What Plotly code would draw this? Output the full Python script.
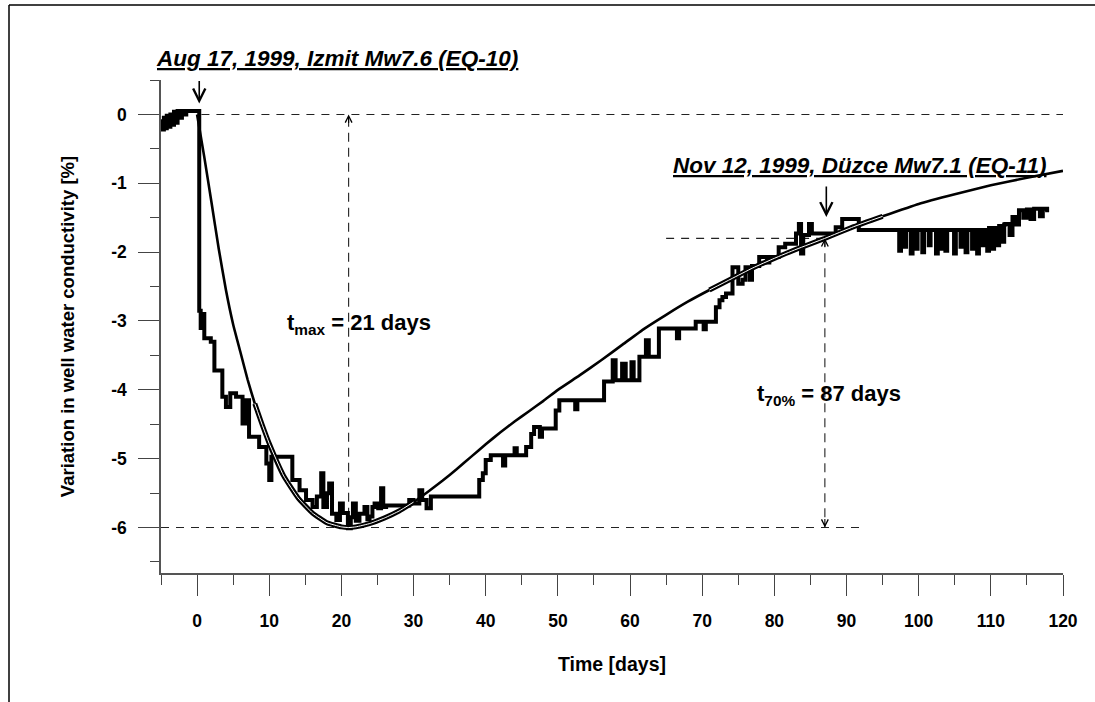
import plotly.graph_objects as go

# ---------------- data ----------------
# measured well-water conductivity variation (step record)
obs_day = [-5.0, -4.8, -4.6, -4.4, -4.2, -4.0, -3.7, -3.5, -3.2, -3.0, -2.7, -2.4, -2.1, -1.8, -1.5,
           0.3, 0.5, 0.7, 1.0, 1.9, 2.4, 3.3, 3.5, 4.0, 4.6, 5.4, 6.3, 6.8, 7.2, 8.6, 9.6, 10.0, 10.3,
           13.2, 14.2, 15.1, 16.0, 16.6, 17.2, 17.5, 18.0, 18.3, 18.7, 19.3, 19.8, 20.2, 20.9, 21.3,
           21.6, 22.0, 22.5, 23.2, 23.6, 23.9, 24.3, 24.6, 25.1, 25.5, 25.8, 26.2, 29.4, 30.0, 30.8,
           31.2, 31.8, 32.4, 39.1, 39.6, 40.0, 40.7, 42.4, 42.7, 44.0, 44.3, 45.6, 46.3, 46.7, 47.5,
           47.8, 49.7, 50.2, 52.4, 52.7, 56.4, 57.6, 58.0, 58.9, 59.4, 60.2, 60.5, 61.3, 62.2, 62.6,
           64.0, 66.5, 66.8, 69.1, 70.2, 70.5, 71.9, 72.4, 72.8, 73.3, 74.2, 75.0, 75.6, 76.0, 76.6,
           76.9, 77.9, 79.0, 79.3, 80.6, 81.5, 83.0, 83.4, 83.7, 84.0, 84.8, 85.2, 88.5, 89.4, 91.7,
           97.3, 97.55, 98.0, 98.25, 98.9, 99.15, 99.6, 99.85, 100.5, 100.75, 101.4, 101.65, 102.4,
           102.65, 103.0, 103.25, 103.7, 103.95, 104.9, 105.15, 105.8, 106.05, 106.5, 106.75, 107.4,
           107.65, 108.1, 108.35, 108.8, 109.05, 109.5, 109.75, 110.2, 110.45, 110.9, 111.15, 111.6,
           111.85, 112.0, 112.6, 113.0, 113.5, 113.9, 114.5, 115.0, 115.5, 116.0, 116.8, 117.2, 117.8]
obs_val = [-0.10, -0.22, -0.05, -0.20, -0.02, -0.18, 0.00, -0.15, 0.04, -0.12, 0.05, -0.05, 0.05, 0.00, 0.05,
           -2.85, -3.10, -2.90, -3.25, -3.30, -3.72, -3.72, -4.10, -4.25, -4.05, -4.10, -4.49, -4.15, -4.68, -4.83, -5.07, -5.31, -4.97,
           -5.31, -5.46, -5.60, -5.70, -5.55, -5.21, -5.70, -5.50, -5.36, -5.80, -5.89, -5.65, -5.79, -6.01, -5.85,
           -5.65, -5.90, -5.80, -5.70, -5.88, -5.84, -5.70, -5.65, -5.72, -5.43, -5.70, -5.68, -5.60, -5.65, -5.46,
           -5.60, -5.72, -5.55, -5.31, -5.21, -5.02, -4.95, -5.10, -4.95, -4.85, -4.95, -4.83, -4.64, -4.54, -4.68,
           -4.56, -4.30, -4.15, -4.28, -4.15, -3.88, -3.57, -3.86, -3.62, -3.86, -3.60, -3.86, -3.52, -3.28, -3.52,
           -3.11, -3.25, -3.11, -3.01, -3.12, -3.01, -2.80, -2.70, -2.65, -2.60, -2.22, -2.46, -2.40, -2.22, -2.40,
           -2.20, -2.07, -2.15, -2.07, -1.93, -1.88, -1.73, -1.59, -2.02, -1.75, -1.59, -1.73, -1.64, -1.52, -1.68,
           -1.98, -1.68, -1.92, -1.68, -2.02, -1.68, -1.95, -1.68, -2.00, -1.68, -1.90, -1.68, -2.02,
           -1.68, -1.95, -1.68, -1.98, -1.68, -2.02, -1.68, -1.92, -1.68, -2.00, -1.68, -1.95,
           -1.68, -2.02, -1.68, -1.90, -1.68, -1.98, -1.65, -1.95, -1.65, -1.90, -1.62, -1.85,
           -1.60, -1.59, -1.75, -1.49, -1.60, -1.39, -1.50, -1.38, -1.52, -1.37, -1.48, -1.37, -1.42]

# model curve
fit_day = [0, 1, 2, 3, 4, 5, 6, 7, 8, 9, 10, 12, 14, 16, 18, 20, 21, 22, 24, 26, 28, 30, 32, 34, 36,
           38, 40, 42, 44, 46, 48, 50, 53, 56, 59, 62, 65, 68, 71, 74, 77, 80, 83, 87, 91, 95, 100,
           105, 110, 115, 120]
fit_val = [0.0, -0.62, -1.28, -1.95, -2.55, -3.05, -3.45, -3.85, -4.20, -4.50, -4.78, -5.25, -5.57,
           -5.79, -5.93, -5.99, -6.00, -5.99, -5.94, -5.86, -5.76, -5.63, -5.48, -5.32, -5.15, -4.97,
           -4.79, -4.62, -4.46, -4.31, -4.16, -4.00, -3.79, -3.57, -3.34, -3.11, -2.91, -2.72, -2.55,
           -2.39, -2.23, -2.09, -1.96, -1.80, -1.63, -1.48, -1.30, -1.16, -1.03, -0.92, -0.82]

EQ10_DAY = 0.3
EQ11_DAY = 87.2
T_MAX = 21
T_70 = 87
Y_MIN = -6.0
Y_70 = -1.8

x_ticks = [0, 10, 20, 30, 40, 50, 60, 70, 80, 90, 100, 110, 120]
y_ticks = [0, -1, -2, -3, -4, -5, -6]

# ---------------- figure ----------------
W, H = 1095, 702
ML, MR, MT, MB = 161, 32, 80, 129
FONT = "Liberation Sans"

fig = go.Figure()

fig.add_trace(go.Scatter(x=obs_day, y=obs_val, mode="lines", line=dict(color="black", width=4, shape="hv"),
                         showlegend=False, hoverinfo="skip"))
fig.add_trace(go.Scatter(x=fit_day, y=fit_val, mode="lines",
                         line=dict(color="black", width=2.6, shape="spline", smoothing=0.4),
                         showlegend=False, hoverinfo="skip"))

# double-line look of the model curve where it runs along the data
for lo, hi in [(8, 30), (71, 95)]:
    sd = [d for d in fit_day if lo <= d <= hi]
    sv = [v for d, v in zip(fit_day, fit_val) if lo <= d <= hi]
    fig.add_trace(go.Scatter(x=sd, y=sv, mode="lines",
                             line=dict(color="black", width=5, shape="spline", smoothing=0.4),
                             showlegend=False, hoverinfo="skip"))
    fig.add_trace(go.Scatter(x=sd, y=sv, mode="lines",
                             line=dict(color="white", width=1, shape="spline", smoothing=0.4),
                             showlegend=False, hoverinfo="skip"))

dash_h = "8px,7px"
dash_v = "9px,6px"
lc = "#222"
fig.add_shape(type="line", x0=0.6, x1=120, y0=0, y1=0, line=dict(color=lc, width=1.1, dash=dash_h), layer="below")
fig.add_shape(type="line", x0=-5, x1=92, y0=Y_MIN, y1=Y_MIN, line=dict(color=lc, width=1.1, dash=dash_h), layer="below")
fig.add_shape(type="line", x0=65, x1=T_70, y0=Y_70, y1=Y_70, line=dict(color=lc, width=1.1, dash=dash_h), layer="below")
fig.add_shape(type="line", x0=T_MAX, x1=T_MAX, y0=-0.05, y1=Y_MIN, line=dict(color=lc, width=1.1, dash=dash_v), layer="below")
fig.add_shape(type="line", x0=T_70, x1=T_70, y0=Y_70, y1=Y_MIN, line=dict(color=lc, width=1.1, dash=dash_v), layer="below")

# frame
px_x = lambda p: (p - ML) / (W - ML - MR)
px_y = lambda p: (H - MB - p) / (H - MT - MB)
fig.add_shape(type="line", xref="paper", yref="paper", x0=px_x(9), x1=px_x(9), y0=px_y(5), y1=px_y(710),
              line=dict(color="black", width=1.5))
fig.add_shape(type="line", xref="paper", yref="paper", x0=px_x(9), x1=px_x(1100), y0=px_y(5), y1=px_y(5),
              line=dict(color="black", width=1.5))

# arrows
arr = dict(showarrow=True, arrowhead=5, arrowsize=1.5, arrowwidth=1.6, arrowcolor="black", text="", ax=0)
fig.add_annotation(x=EQ10_DAY, y=0.16, ay=-24, **arr)
fig.add_annotation(x=EQ11_DAY, y=-1.49, ay=-32, **arr)
arr2 = dict(showarrow=True, arrowhead=5, arrowsize=1.2, arrowwidth=1.1, arrowcolor="black", text="", ax=0)
fig.add_annotation(x=T_MAX, y=0, ay=10, **arr2)
fig.add_annotation(x=T_70, y=Y_70, ay=10, **arr2)
fig.add_annotation(x=T_70, y=Y_MIN, ay=-10, **arr2)

title_font = dict(family=FONT, size=22.5, color="black", weight="bold", style="italic", lineposition="under")
fig.add_annotation(xref="paper", yref="paper", x=px_x(154), y=px_y(58), xanchor="left", yanchor="middle",
                   showarrow=False, text="Aug 17, 1999, Izmit Mw7.6 (EQ-10)", font=title_font)
fig.add_annotation(xref="paper", yref="paper", x=px_x(671), y=px_y(165), xanchor="left", yanchor="middle",
                   showarrow=False, text="Nov 12, 1999, Düzce Mw7.1 (EQ-11)", font=title_font)

lab_font = dict(family=FONT, size=22, color="black", weight="bold")
fig.add_annotation(x=22.4, y=-3.05, showarrow=False, text="t<sub>max</sub> = 21 days", font=lab_font)
fig.add_annotation(x=87.6, y=-4.07, showarrow=False, text="t<sub>70%</sub> = 87 days", font=lab_font)

axis_common = dict(showline=True, linecolor="#555", linewidth=1.5, ticks="outside", ticklen=21, tickwidth=1.3,
                   tickcolor="#444", showgrid=False, zeroline=False, mirror=False,
                   tickfont=dict(family=FONT, size=17.5, color="black", weight="bold"))

fig.update_xaxes(range=[-5, 120], tickmode="array", tickvals=x_ticks, ticktext=[str(t) for t in x_ticks],
                 minor=dict(dtick=5, tick0=-5, ticks="outside", ticklen=10, tickwidth=1.3, tickcolor="#444"),
                 ticklabelstandoff=10,
                 title=dict(text="Time [days]", font=dict(family=FONT, size=19.5, color="black", weight="bold"), standoff=28),
                 **axis_common)
fig.update_yaxes(range=[-6.66, 0.5], tickmode="array", tickvals=y_ticks, ticktext=[str(t) for t in y_ticks],
                 minor=dict(dtick=0.5, tick0=0, ticks="outside", ticklen=9, tickwidth=1.3, tickcolor="#444"),
                 ticklabelstandoff=8,
                 title=dict(text="Variation in well water conductivity [%]",
                            font=dict(family=FONT, size=18.5, color="black", weight="bold"), standoff=32),
                 **axis_common)

fig.update_layout(width=W, height=H, margin=dict(l=ML, r=MR, t=MT, b=MB, autoexpand=False),
                  plot_bgcolor="white", paper_bgcolor="white", showlegend=False)

fig.write_html("out.html")
